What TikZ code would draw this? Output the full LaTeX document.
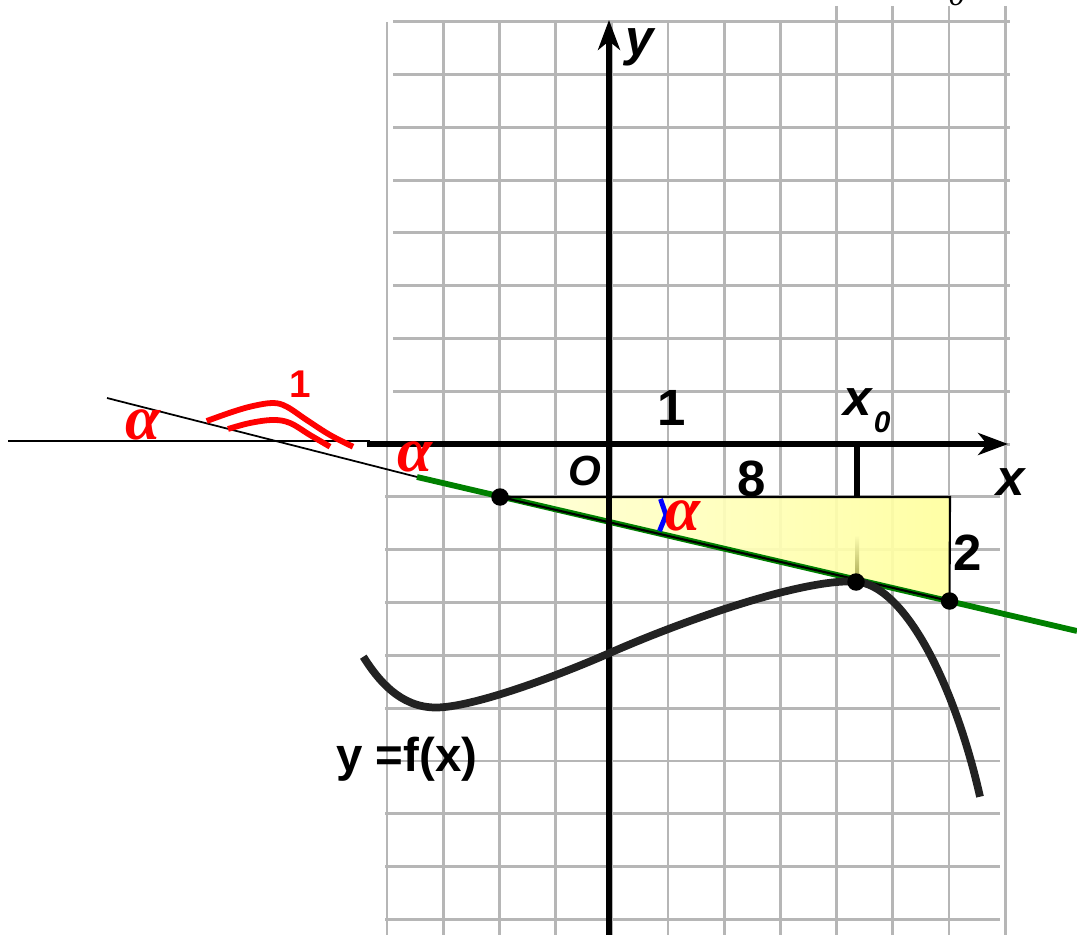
\documentclass[tikz,border=0pt]{standalone}
\usepackage{fontspec}
\setmainfont{Liberation Sans}
\newfontfamily\serifgreek{Liberation Serif}
\usetikzlibrary{arrows.meta}
\definecolor{gridc}{RGB}{182,182,182}
\definecolor{curvec}{RGB}{34,34,34}
\definecolor{tangc}{RGB}{0,128,0}
\begin{document}
\begin{tikzpicture}[x=0.02cm,y=-0.02cm,
  gridline/.style={gridc, line width=1.6pt},
  axisline/.style={black, line width=3pt, -{Stealth[length=17pt,width=12.5pt,inset=5pt]}},
  lbl/.style={font=\fontsize{29}{34}\selectfont\bfseries, inner sep=0pt, anchor=base},
  ilbl/.style={font=\fontsize{29}{34}\selectfont\bfseries\itshape, inner sep=0pt, anchor=base},
  redalpha/.style={font=\fontsize{36}{40}\selectfont\serifgreek\bfseries\itshape, text=red, inner sep=0pt, anchor=base},
  dot/.style={circle, fill=black, inner sep=0pt, minimum size=0.35cm},
  redarc/.style={red, line width=3.3pt},
  ]
\useasboundingbox (0,0) rectangle (1077,935);
% grid
\foreach \gx in {387,443.2,499.4,555.6,611.8,668,724.2,780.4}
  \draw[gridline] (\gx,22) -- (\gx,935);
\foreach \gx in {836.6,892.8,949,1005.2}
  \draw[gridline] (\gx,6) -- (\gx,935);
\foreach \gy in {21.7,74.5,127.3,180.1,232.9,285.7,338.5,391.3,444.1}
  \draw[gridline] (393,\gy) -- (1010,\gy);
\foreach \gy in {496.9,549.7,602.5,655.3,708.1,760.9,813.7,866.5,919.3}
  \draw[gridline] (385,\gy) -- (1000,\gy);
% stray subscript at top
\node[font=\fontsize{19}{22}\selectfont\serifgreek\itshape, inner sep=0pt, anchor=base] (topzero) at (957,6) {0};
% coordinates
\coordinate (xs) at (367,444);
\coordinate (xe) at (1008,444);
\coordinate (ys) at (609,935);
\coordinate (ye) at (609,20);
\coordinate (hl) at (8,441);
\coordinate (hr) at (370,441);
\coordinate (sl) at (107,398);
\coordinate (sr) at (425,479);
\coordinate (gl) at (417,477);
\coordinate (gr) at (1077,631);
\coordinate (A) at (500,497);
\coordinate (C) at (950,497);
\coordinate (B) at (949.5,601);
\coordinate (tk1) at (857,441);
\coordinate (tk2) at (857,497);
% triangle fill
\shade[left color=yellow!16, right color=yellow!38, opacity=0.92] (A) -- (C) -- (B) -- cycle;
\shade[top color=yellow!30, bottom color=black!55!yellow!80, opacity=0.8] (855,535) rectangle (859,582);
% reference lines
\draw[black, line width=1pt] (hl) -- (hr);
\draw[black, line width=1pt] (sl) -- (sr);
\draw[tangc, line width=3.3pt] (gl) -- (gr);
% triangle outline
\draw[black, line width=1.2pt] (A) -- (C) -- (B) -- cycle;
% axes
\draw[axisline] (xs) -- (xe);
\draw[axisline] (ys) -- (ye);
\draw[black, line width=3pt] (tk1) -- (tk2);
% curve
\draw[curvec, line width=4.4pt] (363.3,656.7)
  .. controls (378,680) and (400,707.5) .. (436,707.5)
  .. controls (472,707.5) and (555,677) .. (609,653.3)
  .. controls (680,622) and (800,579) .. (855,581.5)
  .. controls (905,584) and (955,686) .. (980,796.7);
% points
\node[dot] (P1) at (A) {};
\node[dot] (P0) at (856,582) {};
\node[dot] (P2) at (B) {};
% red double arc
\draw[redarc] plot[smooth, tension=0.6] coordinates {
 (206.7,421) (233,411.7) (253,406) (273,403) (286.7,406.7) (306.7,420) (330,435) (353,446.7)};
\draw[redarc] plot[smooth, tension=0.6] coordinates {
 (228,429) (250,423) (273,420) (290,423) (310,435) (330,446.7)};
% blue angle mark
\draw[blue, line width=2.8pt] (660.5,499) -- (666,515) -- (659.5,531);
% labels
\node[ilbl] (ylab) at (640,56) {y};
\node[ilbl] (xlab) at (1011,495) {x};
\node[ilbl, font=\fontsize{24}{28}\selectfont\bfseries\itshape] (olab) at (585,485) {O};
\node[lbl] (one) at (672,425) {1};
\node[lbl] (eight) at (752,496) {8};
\node[lbl] (two) at (968,570) {2};
\node[ilbl] (x0lab) at (867,415) {x\kern1pt\raisebox{-10pt}{\fontsize{17}{20}\selectfont 0}};
\node[lbl, font=\fontsize{27}{32}\selectfont\bfseries] (flab) at (406.7,771.7) {y =f(x)};
\node[lbl, font=\fontsize{22}{26}\selectfont\bfseries, text=red] (redone) at (300,398) {1};
\node[redalpha] (al1) at (143,439) {α};
\node[redalpha] (al2) at (415,471) {α};
\node[redalpha] (al3) at (683,530) {α};
\end{tikzpicture}
\end{document}
